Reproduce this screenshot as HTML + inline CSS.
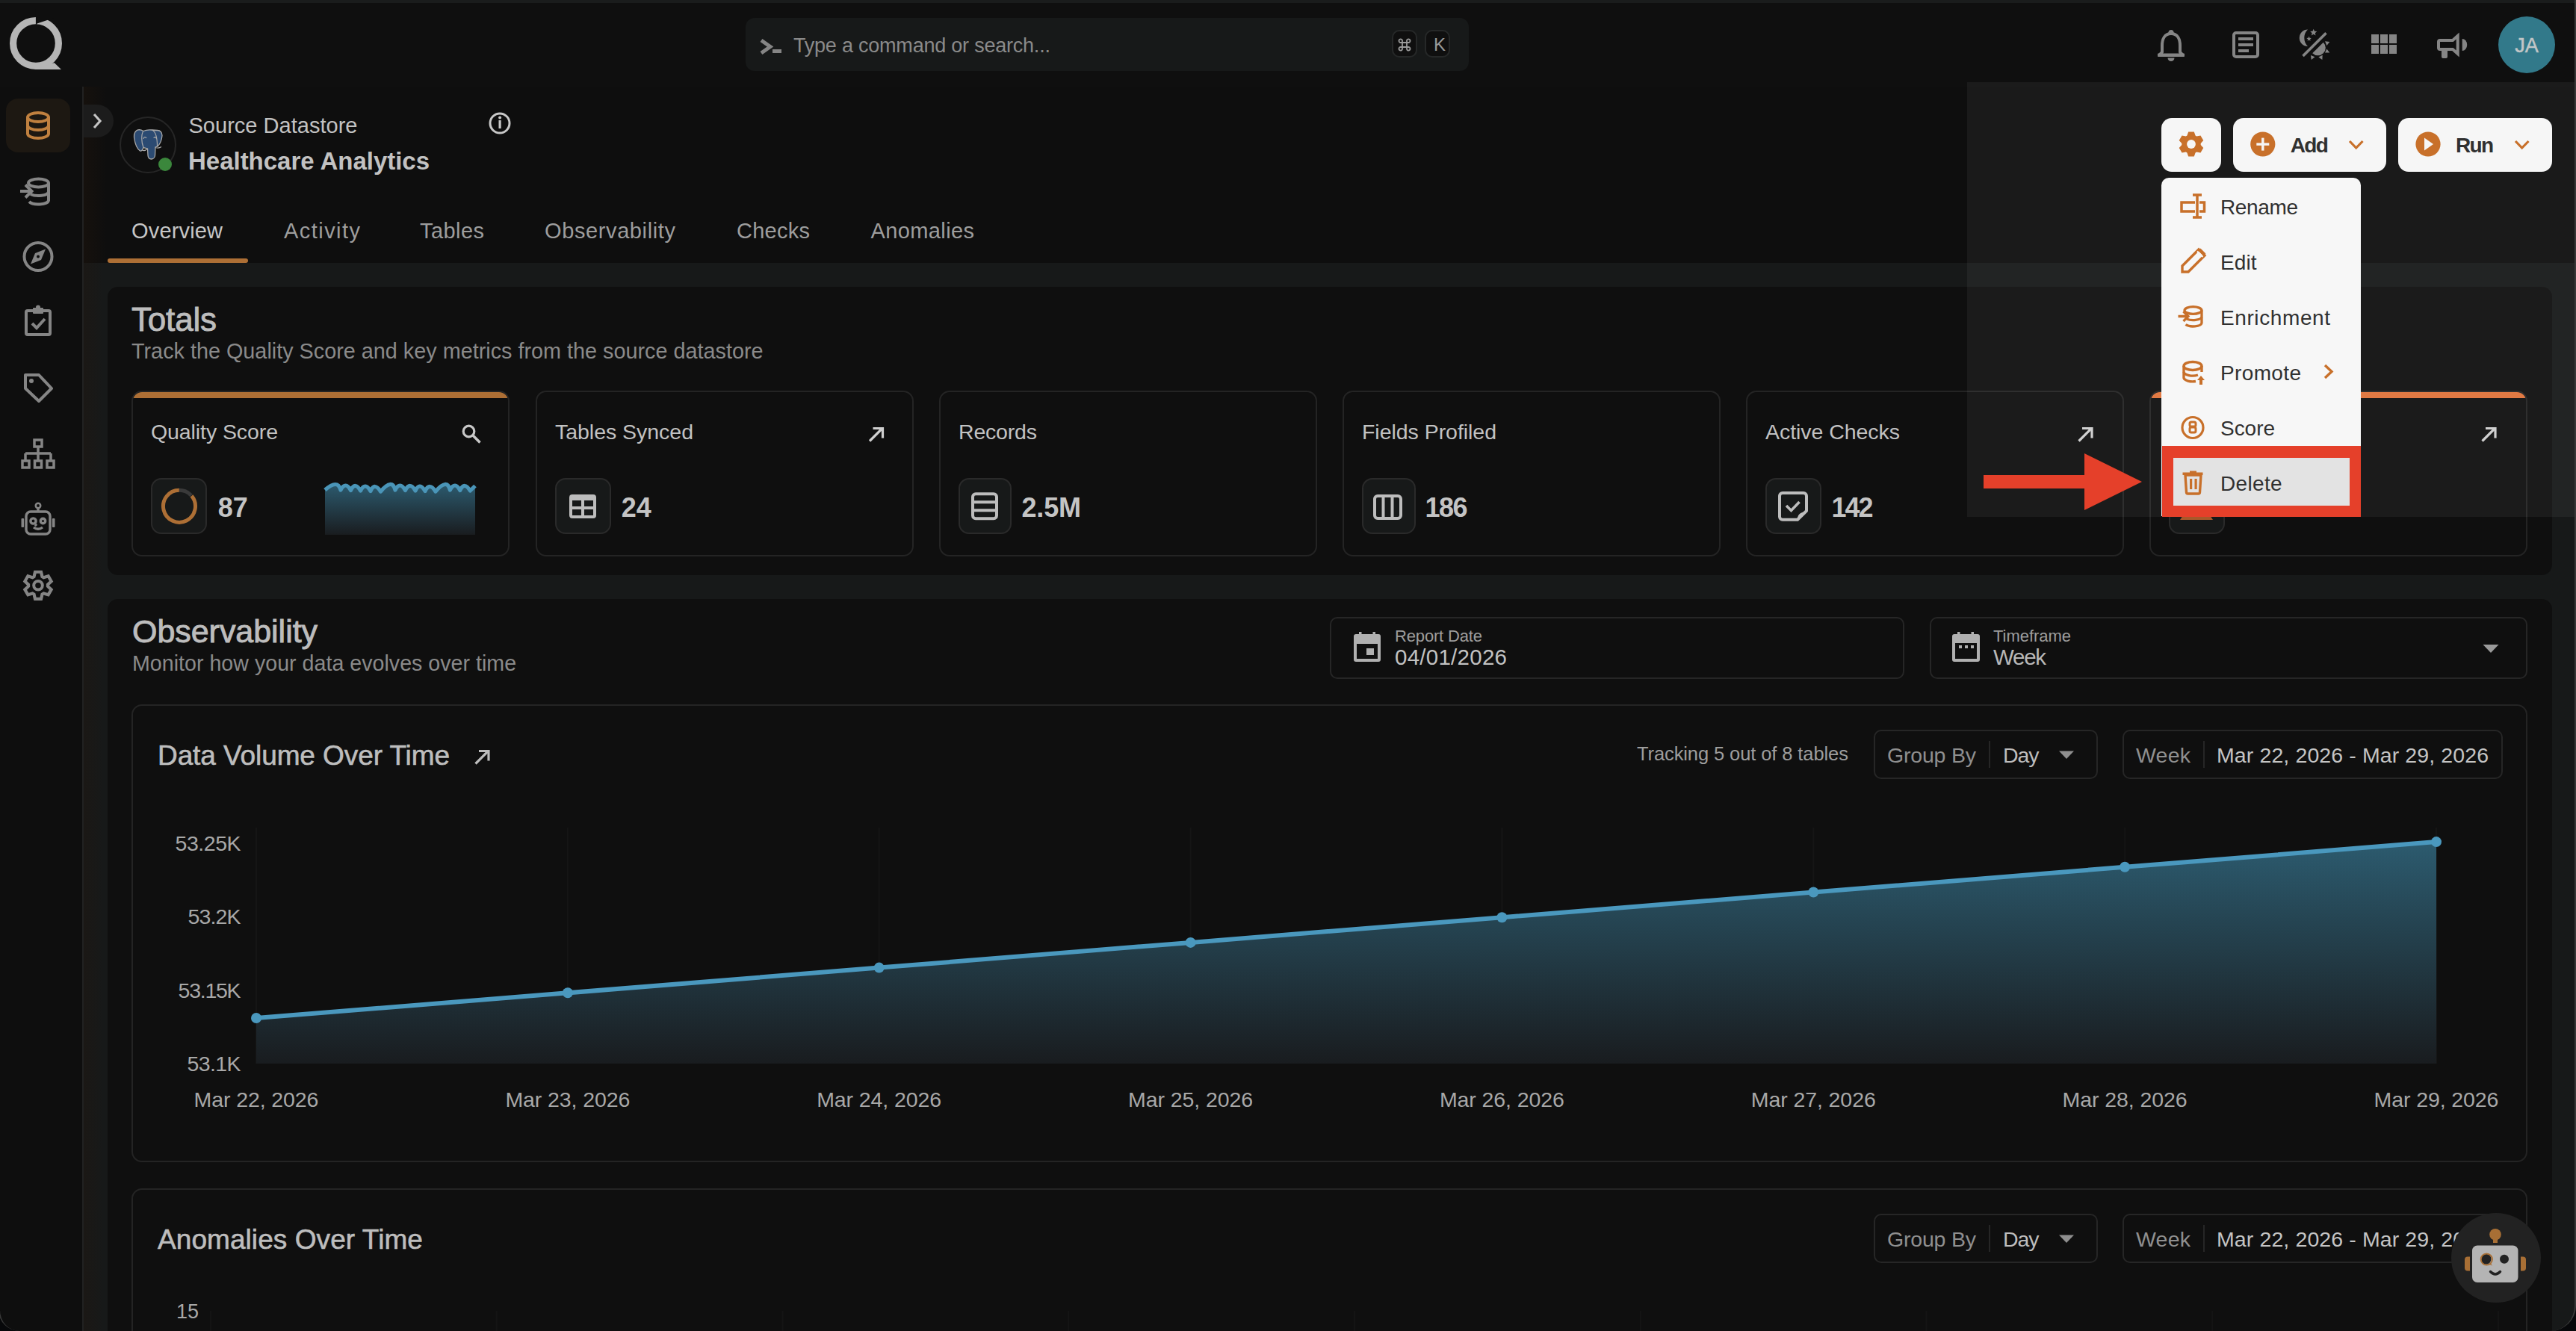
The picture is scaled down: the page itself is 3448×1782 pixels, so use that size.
<!DOCTYPE html>
<html><head><meta charset="utf-8"><title>Healthcare Analytics</title>
<style>
html,body{margin:0;padding:0;}
body{width:3448px;height:1782px;overflow:hidden;background:#07080a;font-family:"Liberation Sans", sans-serif;position:relative;}
.a{position:absolute;box-sizing:border-box;}
.t{position:absolute;line-height:1;white-space:pre;}
svg{position:absolute;overflow:visible;}
</style></head><body>
<div class="a" style="left:0;top:0;width:3448px;height:1782px;background:#0f0f0f;border-radius:0 0 34px 28px;overflow:hidden"></div>
<div class="a" style="left:0;top:0;width:3448px;height:4px;background:#1a1c1c"></div>
<div class="a" style="left:0;top:116px;width:110px;height:1666px;background:#0e0e0e;border-bottom-left-radius:28px"></div>
<div class="a" style="left:110px;top:116px;width:2px;height:1666px;background:#212121"></div>
<div class="a" style="left:112px;top:116px;width:3336px;height:236px;background:#0e0e0e"></div>
<div class="a" style="left:112px;top:116px;width:30px;height:236px;background:linear-gradient(90deg,#16110d,#0e0e0e)"></div>
<div class="a" style="left:112px;top:352px;width:3336px;height:1430px;background:#171919;border-bottom-right-radius:34px"></div>
<div class="a" style="left:112px;top:352px;width:26px;height:1430px;background:linear-gradient(90deg,#1b1815,#171919)"></div>
<div class="a" style="left:3446px;top:116px;width:2px;height:1632px;background:#383838"></div>
<svg class="a" style="left:0;top:0" width="120" height="110" viewBox="0 0 120 110"><circle cx="48" cy="58" r="30.4" fill="none" stroke="#b5b5b5" stroke-width="9.2"/><path d="M46 93 L82 93 L72.6 83.9 L58 89 Z" fill="#b5b5b5"/><path d="M47.9 12 V34 L49.7 31.6 L72 24 V12 Z" fill="#0f0f0f"/></svg>
<div class="a" style="left:998px;top:24px;width:968px;height:71px;background:#171919;border-radius:12px"></div>
<svg class="a" style="left:1010px;top:45px" width="50" height="35" viewBox="0 0 50 35"><path d="M9 9 L21 17.5 L9 26" fill="none" stroke="#858585" stroke-width="5" stroke-linejoin="miter"/><rect x="24" y="21" width="12" height="5" fill="#858585"/></svg>
<div class="t" style="left:1062.0px;top:48.1px;font-size:27px;color:#8a8a8a;letter-spacing:-0.22px;">Type a command or search...</div>
<div class="a" style="left:1863px;top:40px;width:34px;height:37px;background:#0f0f0f;border:2px solid #262828;border-radius:10px"></div>
<div class="a" style="left:1907px;top:40px;width:34px;height:37px;background:#0f0f0f;border:2px solid #262828;border-radius:10px"></div>
<svg class="a" style="left:1870px;top:50px" width="20" height="20" viewBox="0 0 20 20"><path fill="none" stroke="#9a9a9a" stroke-width="1.8" d="M7 7 H13 V13 H7 Z M7 7 V5.2 A2.3 2.3 0 1 0 4.9 7 H7 M13 7 V5.2 A2.3 2.3 0 1 1 15.1 7 H13 M7 13 V14.8 A2.3 2.3 0 1 1 4.9 13 H7 M13 13 V14.8 A2.3 2.3 0 1 0 15.1 13 H13"/></svg>
<div class="t" style="left:1919.0px;top:47.7px;font-size:24px;color:#9a9a9a;">K</div>
<svg class="a" style="left:0;top:0" width="3448" height="110" viewBox="0 0 3448 110"><circle cx="2906" cy="43.5" r="3.5" fill="#858585"/><path d="M2906 45 C2897 45 2894 53 2894 61 L2894 70 L2890 74 L2922 74 L2918 70 L2918 61 C2918 53 2915 45 2906 45 Z" fill="none" stroke="#858585" stroke-width="4" stroke-linejoin="round"/><rect x="2888" y="71.5" width="36" height="4.5" rx="1" fill="#858585"/><path d="M2901.5 77.5 A4.5 4.5 0 0 0 2910.5 77.5 Z" fill="#858585"/><rect x="2990" y="44" width="32" height="32" rx="3" fill="none" stroke="#858585" stroke-width="4"/><rect x="2996" y="50" width="20" height="4" fill="#858585"/><rect x="2996" y="58" width="20" height="4" fill="#858585"/><rect x="2996" y="66" width="14" height="4" fill="#858585"/><path d="M3089 39.5 A11.25 11.25 0 0 0 3089 62 A15.8 15.8 0 0 1 3089 39.5 Z" fill="#858585"/><path d="M3096.70 38.80 L3097.97 41.85 L3101.27 42.12 L3098.75 44.27 L3099.52 47.48 L3096.70 45.76 L3093.88 47.48 L3094.65 44.27 L3092.13 42.12 L3095.43 41.85 Z" fill="#858585"/><path d="M3090.60 48.60 L3091.50 50.76 L3093.83 50.95 L3092.06 52.47 L3092.60 54.75 L3090.60 53.53 L3088.60 54.75 L3089.14 52.47 L3087.37 50.95 L3089.70 50.76 Z" fill="#858585"/><line x1="3082.5" y1="75" x2="3113.5" y2="44.3" stroke="#858585" stroke-width="3.6"/><path d="M3109.8 56.7 A10.3 10.3 0 0 1 3095.2 71.3 Z" fill="#858585"/><path d="M3112 55.2 L3118.3 56 L3114.4 60.9 Z M3112 70.5 L3118.3 70.5 L3114.4 65.4 Z M3103.3 76.5 L3108.7 73.8 L3108.4 80.1 Z M3093 74 L3098.5 76.2 L3093.7 80.1 Z" fill="#858585"/><rect x="3174" y="46" width="10" height="12" fill="#858585"/><rect x="3174" y="60" width="10" height="12" fill="#858585"/><rect x="3186" y="46" width="10" height="12" fill="#858585"/><rect x="3186" y="60" width="10" height="12" fill="#858585"/><rect x="3198" y="46" width="10" height="12" fill="#858585"/><rect x="3198" y="60" width="10" height="12" fill="#858585"/><path d="M3266 54 H3283 L3289.7 48 V72 L3283 66 H3266 A2 2 0 0 1 3264 64 V56 A2 2 0 0 1 3266 54 Z" fill="none" stroke="#858585" stroke-width="4" stroke-linejoin="miter"/><rect x="3268" y="66" width="8" height="12" rx="2" fill="#858585"/><path d="M3295.7 52 A6.5 8 0 0 1 3295.7 68 Z" fill="#858585"/></svg>
<div class="a" style="left:3344px;top:22px;width:76px;height:76px;border-radius:50%;background:#32798a"></div>
<div class="t" style="left:3366.2px;top:47.6px;font-size:27px;color:#c2c6c7;-webkit-text-stroke:0.5px #c2c6c7;">JA</div>
<div class="a" style="left:8px;top:132px;width:86px;height:72px;background:#1d1812;border-radius:16px"></div>
<svg class="a" style="left:0;top:110px" width="110" height="720" viewBox="0 110 110 720"><g fill="none" stroke="#c0803f" stroke-width="4"><ellipse cx="51" cy="157" rx="14" ry="6"/><path d="M37 157 V179 A14 6 0 0 0 65 179 V157"/><path d="M37 168 A14 6 0 0 0 65 168"/></g><g fill="none" stroke="#858585" stroke-width="4"><ellipse cx="51.5" cy="245" rx="13.5" ry="5.5"/><path d="M65 245 V268.5 A13.5 5.5 0 0 1 39 270"/><path d="M65 257 A13.5 5.5 0 0 1 41 260"/><path d="M27 256 H43 M34 247.5 L42.5 256 L34 264.5"/></g><circle cx="51" cy="343.5" r="18.5" fill="none" stroke="#858585" stroke-width="4"/><path d="M61 333.5 L55 348 L41 353.5 L47 339 Z" fill="#858585"/><circle cx="51" cy="343.5" r="2" fill="#0e0e0e"/><g fill="none" stroke="#858585" stroke-width="4"><rect x="35" y="416" width="32" height="32" rx="2"/><path d="M43 433 L49 439 L60 427"/></g><rect x="44" y="412" width="14" height="8" rx="1" fill="#858585"/><circle cx="51" cy="411.5" r="3" fill="#858585"/><path d="M34 502 H52 L69 520 L52 537 L34 520 Z" fill="none" stroke="#858585" stroke-width="4" stroke-linejoin="round"/><circle cx="42" cy="510" r="3" fill="#858585"/><g fill="none" stroke="#858585" stroke-width="3.5"><rect x="46" y="589" width="10" height="9"/><path d="M51 598 V607 M34 607 H68 M34 607 V617 M51 607 V617 M68 607 V617"/><rect x="30" y="617" width="9" height="9"/><rect x="46.5" y="617" width="9" height="9"/><rect x="63" y="617" width="9" height="9"/></g><g fill="none" stroke="#858585" stroke-width="3.4"><rect x="35" y="685" width="32" height="30" rx="6"/><circle cx="44.5" cy="697.5" r="3.6"/><circle cx="57.5" cy="697.5" r="3.2"/><path d="M47 702 L49 704"/><path d="M45 706 Q51 710.5 57 706"/><path d="M51 685 V680.5"/></g><circle cx="51" cy="677" r="3.2" fill="none" stroke="#858585" stroke-width="2.6"/><rect x="28.5" y="694" width="3.6" height="12" rx="1" fill="#858585"/><rect x="69.9" y="694" width="3.6" height="12" rx="1" fill="#858585"/><path d="M45.51 772.02 L47.00 765.74 L55.00 765.74 L56.49 772.02 L58.46 773.15 L64.64 771.30 L68.64 778.24 L63.95 782.67 L63.95 784.93 L68.64 789.36 L64.64 796.30 L58.46 794.45 L56.49 795.58 L55.00 801.86 L47.00 801.86 L45.51 795.58 L43.54 794.45 L37.36 796.30 L33.36 789.36 L38.05 784.93 L38.05 782.67 L33.36 778.24 L37.36 771.30 L43.54 773.15 Z" fill="none" stroke="#858585" stroke-width="4.2" stroke-linejoin="miter"/><circle cx="51" cy="783.8" r="5.8" fill="none" stroke="#858585" stroke-width="4"/></svg>
<div class="a" style="left:112px;top:140px;width:40px;height:44px;background:#1c1c1c;border-radius:0 22px 22px 0"></div>
<svg class="a" style="left:112px;top:140px" width="40" height="44" viewBox="0 0 40 44"><path d="M14 13 L22 22 L14 31" fill="none" stroke="#c4c4c4" stroke-width="3.2"/></svg>
<div class="a" style="left:160px;top:156px;width:76px;height:76px;border-radius:50%;border:2px solid #262626;background:#0f0f0f"></div>
<svg class="a" style="left:160px;top:156px" width="80" height="80" viewBox="160 156 80 80"><path d="M186.5 173.7 C181 174 178.8 179 179.5 184 C180.5 191 183 199 187.5 202 C189.5 203 191 200 192 197.5 L197.5 199 L198 208 C198.3 212 200.5 213 202.5 213 C205 213 207.3 211 207.5 208 L208 197 L211 196 C214 193 216.5 187 217 181.5 C217 177.5 214.5 174.5 211 174.5 C208 174.5 206 174.3 203.5 174 C199 173.5 195 174 191.8 175.5 C190 174.3 188.5 173.7 186.5 173.7 Z" fill="#2b4a72" stroke="#a8a8a8" stroke-width="1.3"/><path d="M191.8 175.5 C189 180 189 190 192 197.5 M203.5 174 C208 176 210.5 182 210.5 196 M192 186 C192 183 195 183 196 185 M206 185 C206 183 208.5 183 209.5 185.5 M190 200.5 C192.5 202.5 195 201.5 197.5 199 M208 197.5 C211 198.5 214 198 216 196.5" fill="none" stroke="#a8a8a8" stroke-width="1.2"/></svg>
<div class="a" style="left:212px;top:211px;width:18px;height:18px;border-radius:50%;background:#3b873c"></div>
<div class="t" style="left:252.5px;top:153.5px;font-size:29px;color:#c2c2c2;letter-spacing:0.02px;">Source Datastore</div>
<div class="t" style="left:252.0px;top:198.6px;font-size:33px;color:#c2c2c2;font-weight:700;letter-spacing:-0.02px;">Healthcare Analytics</div>
<svg class="a" style="left:650px;top:146px" width="40" height="40" viewBox="650 146 40 40"><circle cx="669" cy="165" r="13" fill="none" stroke="#c8c8c8" stroke-width="3"/><rect x="667.5" y="161" width="3.2" height="11" fill="#c8c8c8"/><circle cx="669.1" cy="157.5" r="2" fill="#c8c8c8"/></svg>
<div class="t" style="left:176.0px;top:294.5px;font-size:29px;color:#c6c6c6;letter-spacing:0.16px;">Overview</div>
<div class="t" style="left:380.0px;top:294.5px;font-size:29px;color:#9d9d9d;letter-spacing:1.45px;">Activity</div>
<div class="t" style="left:562.0px;top:294.5px;font-size:29px;color:#9d9d9d;letter-spacing:0.43px;">Tables</div>
<div class="t" style="left:729.0px;top:294.5px;font-size:29px;color:#9d9d9d;letter-spacing:0.61px;">Observability</div>
<div class="t" style="left:986.0px;top:294.5px;font-size:29px;color:#9d9d9d;letter-spacing:0.26px;">Checks</div>
<div class="t" style="left:1165.5px;top:294.5px;font-size:29px;color:#9d9d9d;letter-spacing:0.39px;">Anomalies</div>
<div class="a" style="left:144px;top:346px;width:188px;height:6px;background:#ad6f35;border-radius:3px"></div>
<div class="a" style="left:144px;top:384px;width:3272px;height:386px;background:#0f0f0f;border-radius:14px"></div>
<div class="t" style="left:176.0px;top:405.8px;font-size:44px;color:#bdbdbd;letter-spacing:-0.19px;-webkit-text-stroke:0.9px #bdbdbd;">Totals</div>
<div class="t" style="left:176.0px;top:455.6px;font-size:28.8px;color:#8a8a8a;">Track the Quality Score and key metrics from the source datastore</div>
<div class="a" style="left:176px;top:523px;width:506px;height:222px;background:#0f0f0f;border:2px solid #242424;border-radius:14px;overflow:hidden"><div class="a" style="left:0;top:0;width:100%;height:8px;background:#ad6f35"></div></div>
<div class="t" style="left:202.0px;top:563.9px;font-size:28.5px;color:#c2c2c2;letter-spacing:-0.09px;">Quality Score</div>
<div class="a" style="left:202px;top:640px;width:75px;height:75px;background:#171919;border:2px solid #2a2a2a;border-radius:14px"></div>
<div class="a" style="left:717px;top:523px;width:506px;height:222px;background:#0f0f0f;border:2px solid #242424;border-radius:14px;overflow:hidden"></div>
<div class="t" style="left:743.0px;top:563.9px;font-size:28.5px;color:#c2c2c2;letter-spacing:-0.03px;">Tables Synced</div>
<div class="a" style="left:743px;top:640px;width:75px;height:75px;background:#171919;border:2px solid #2a2a2a;border-radius:14px"></div>
<div class="a" style="left:1257px;top:523px;width:506px;height:222px;background:#0f0f0f;border:2px solid #242424;border-radius:14px;overflow:hidden"></div>
<div class="t" style="left:1283.0px;top:563.9px;font-size:28.5px;color:#c2c2c2;letter-spacing:-0.19px;">Records</div>
<div class="a" style="left:1283px;top:640px;width:71px;height:75px;background:#171919;border:2px solid #2a2a2a;border-radius:14px"></div>
<div class="a" style="left:1797px;top:523px;width:506px;height:222px;background:#0f0f0f;border:2px solid #242424;border-radius:14px;overflow:hidden"></div>
<div class="t" style="left:1823.0px;top:563.9px;font-size:28.5px;color:#c2c2c2;letter-spacing:-0.04px;">Fields Profiled</div>
<div class="a" style="left:1823px;top:640px;width:72px;height:75px;background:#171919;border:2px solid #2a2a2a;border-radius:14px"></div>
<div class="a" style="left:2337px;top:523px;width:506px;height:222px;background:#0f0f0f;border:2px solid #242424;border-radius:14px;overflow:hidden"></div>
<div class="t" style="left:2363.0px;top:563.9px;font-size:28.5px;color:#c2c2c2;letter-spacing:-0.05px;">Active Checks</div>
<div class="a" style="left:2363px;top:640px;width:75px;height:75px;background:#171919;border:2px solid #2a2a2a;border-radius:14px"></div>
<div class="a" style="left:2877px;top:523px;width:506px;height:222px;background:#0f0f0f;border:2px solid #242424;border-radius:14px;overflow:hidden"><div class="a" style="left:0;top:0;width:100%;height:8px;background:#e0733a"></div></div>
<div class="a" style="left:2903px;top:640px;width:75px;height:75px;background:#171919;border:2px solid #2a2a2a;border-radius:14px"></div>
<div class="t" style="left:291.8px;top:661.9px;font-size:36px;color:#c4c4c4;font-weight:700;">87</div>
<div class="t" style="left:831.8px;top:661.9px;font-size:36px;color:#c4c4c4;font-weight:700;">24</div>
<div class="t" style="left:1367.5px;top:661.9px;font-size:36px;color:#c4c4c4;font-weight:700;letter-spacing:-0.18px;">2.5M</div>
<div class="t" style="left:1907.6px;top:661.9px;font-size:36px;color:#c4c4c4;font-weight:700;letter-spacing:-1.54px;">186</div>
<div class="t" style="left:2451.5px;top:661.9px;font-size:36px;color:#c4c4c4;font-weight:700;letter-spacing:-2.04px;">142</div>
<svg class="a" style="left:0;top:0" width="3448" height="800" viewBox="0 0 3448 800"><path d="M240.00 656.30 A21.5 21.5 0 0 1 255.98 663.41" fill="none" stroke="#3a3a3a" stroke-width="5"/><path d="M256.47 663.98 A21.5 21.5 0 1 1 239.81 656.30" fill="none" stroke="#ad6f35" stroke-width="5"/><defs><linearGradient id="gsp" x1="0" y1="0" x2="0" y2="1"><stop offset="0" stop-color="#2c5a6e"/><stop offset="1" stop-color="#191c1f"/></linearGradient><linearGradient id="gdv" x1="0" y1="0" x2="0" y2="1"><stop offset="0" stop-color="#2d5b70"/><stop offset="1" stop-color="#1a1d20"/></linearGradient></defs><path d="M435 656 Q451.9 641.0 456 656 Q462.5 643.8 469.5 656.5 Q475.2 644.2 482.6 657 Q488.7 644.8 496 657.5 Q501.2 645.2 509.5 658 Q524.8 640.0 529 656 Q535.2 643.8 542.5 656.5 Q548.8 644.2 556 657 Q561.5 644.8 569 657.5 Q575.0 645.2 583 658 Q598.3 640.0 602.4 656 Q608.9 643.8 615.8 656.5 Q621.5 644.2 629.3 657 L636 650.5 L636 716 L435 716 Z" fill="url(#gsp)"/><path d="M435 656 Q451.9 641.0 456 656 Q462.5 643.8 469.5 656.5 Q475.2 644.2 482.6 657 Q488.7 644.8 496 657.5 Q501.2 645.2 509.5 658 Q524.8 640.0 529 656 Q535.2 643.8 542.5 656.5 Q548.8 644.2 556 657 Q561.5 644.8 569 657.5 Q575.0 645.2 583 658 Q598.3 640.0 602.4 656 Q608.9 643.8 615.8 656.5 Q621.5 644.2 629.3 657 L636 650.5" fill="none" stroke="#4a95b8" stroke-width="5.2" stroke-linejoin="round"/><path fill-rule="evenodd" fill="#bdbdbd" d="M766 662 H794 A4 4 0 0 1 798 666 V690 A4 4 0 0 1 794 694 H766 A4 4 0 0 1 762 690 V666 A4 4 0 0 1 766 662 Z M766 670 V678 H778 V670 Z M782 670 V678 H794 V670 Z M766 682 V690 H778 V682 Z M782 682 V690 H794 V682 Z"/><g fill="none" stroke="#bdbdbd" stroke-width="4"><rect x="1302" y="661.3" width="32" height="33" rx="4"/><path d="M1302 672.3 H1334 M1302 683.3 H1334"/></g><g fill="none" stroke="#bdbdbd" stroke-width="4"><rect x="1840" y="664" width="35" height="30" rx="4"/><path d="M1851.5 664 V694 M1863.5 664 V694"/></g><path d="M2406 695.8 H2386 A4 4 0 0 1 2382 691.8 V664 A4 4 0 0 1 2386 660 H2414 A4 4 0 0 1 2418 664 V684 Z" fill="none" stroke="#bdbdbd" stroke-width="4" stroke-linejoin="round"/><path d="M2406 697.5 C2405 690 2409 685 2418.5 685 Z" fill="#bdbdbd"/><path d="M2391 677 L2397.5 683.5 L2408.5 672" fill="none" stroke="#bdbdbd" stroke-width="3.6"/><circle cx="627.5" cy="577.5" r="7.3" fill="none" stroke="#c8c8c8" stroke-width="3.2"/><path d="M632.5 582.5 L642.5 592.5" stroke="#c8c8c8" stroke-width="3.6"/><path d="M1164.0 590.5 L1180.5 574" stroke="#cfcfcf" stroke-width="3.2"/><path d="M1168.5 573.5 H1181.5 V586.5" fill="none" stroke="#cfcfcf" stroke-width="3.2"/><path d="M2782.5 590.5 L2799 574" stroke="#cfcfcf" stroke-width="3.2"/><path d="M2787 573.5 H2800 V586.5" fill="none" stroke="#cfcfcf" stroke-width="3.2"/><path d="M3322.5 590.5 L3339 574" stroke="#cfcfcf" stroke-width="3.2"/><path d="M3327 573.5 H3340 V586.5" fill="none" stroke="#cfcfcf" stroke-width="3.2"/></svg>
<div class="a" style="left:144px;top:802px;width:3272px;height:1100px;background:#0f0f0f;border-radius:14px"></div>
<div class="t" style="left:177.0px;top:823.6px;font-size:43px;color:#bdbdbd;letter-spacing:-0.04px;-webkit-text-stroke:0.9px #bdbdbd;">Observability</div>
<div class="t" style="left:177.0px;top:873.8px;font-size:28.6px;color:#8a8a8a;letter-spacing:0.02px;">Monitor how your data evolves over time</div>
<div class="a" style="left:1780px;top:826px;width:769px;height:83px;border:2px solid #262626;border-radius:10px"></div>
<div class="a" style="left:2583px;top:826px;width:800px;height:83px;border:2px solid #262626;border-radius:10px"></div>
<svg class="a" style="left:0;top:800px" width="3448" height="120" viewBox="0 800 3448 120"><path fill-rule="evenodd" fill="#b0b0b0" d="M1815 849 H1845 A3 3 0 0 1 1848 852 V883 A3 3 0 0 1 1845 886 H1815 A3 3 0 0 1 1812 883 V852 A3 3 0 0 1 1815 849 Z M1816 862 V882 H1844 V862 Z"/><rect x="1819" y="846" width="3.5" height="6" fill="#b0b0b0"/><rect x="1837.5" y="846" width="3.5" height="6" fill="#b0b0b0"/><rect x="1829" y="868" width="10" height="9" fill="#b0b0b0"/><path fill-rule="evenodd" fill="#b0b0b0" d="M2616 849 H2647 A3 3 0 0 1 2650 852 V883 A3 3 0 0 1 2647 886 H2616 A3 3 0 0 1 2613 883 V852 A3 3 0 0 1 2616 849 Z M2617 861 V882 H2646 V861 Z"/><rect x="2620" y="846" width="3.5" height="6" fill="#b0b0b0"/><rect x="2638.5" y="846" width="3.5" height="6" fill="#b0b0b0"/><rect x="2622" y="864" width="4" height="4" fill="#b0b0b0"/><rect x="2630" y="864" width="4" height="4" fill="#b0b0b0"/><rect x="2638" y="864" width="4" height="4" fill="#b0b0b0"/><path d="M3323.5 863 H3344.5 L3334 874 Z" fill="#9a9a9a"/></svg>
<div class="t" style="left:1867.0px;top:841.0px;font-size:22px;color:#9d9d9d;letter-spacing:-0.16px;">Report Date</div>
<div class="t" style="left:1867.0px;top:865.0px;font-size:29.5px;color:#c2c2c2;letter-spacing:0.26px;">04/01/2026</div>
<div class="t" style="left:2668.0px;top:841.0px;font-size:22px;color:#9d9d9d;letter-spacing:-0.04px;">Timeframe</div>
<div class="t" style="left:2668.0px;top:865.0px;font-size:29.5px;color:#b8b8b8;letter-spacing:-1.29px;">Week</div>
<div class="a" style="left:176px;top:943px;width:3207px;height:613px;border:2px solid #242424;border-radius:14px"></div>
<div class="t" style="left:211.0px;top:992.7px;font-size:37px;color:#bdbdbd;letter-spacing:-0.09px;-webkit-text-stroke:0.6px #bdbdbd;">Data Volume Over Time</div>
<svg class="a" style="left:630px;top:998px" width="30" height="30" viewBox="630 998 30 30"><path d="M636.5 1022.5 L653 1006" stroke="#bdbdbd" stroke-width="3.2"/><path d="M641 1005.5 H654 V1018.5" fill="none" stroke="#bdbdbd" stroke-width="3.2"/></svg>
<div class="t" style="left:2191.0px;top:997.1px;font-size:25.5px;color:#9d9d9d;letter-spacing:-0.10px;">Tracking 5 out of 8 tables</div>
<div class="a" style="left:2508px;top:977px;width:300px;height:66px;border:2px solid #262626;border-radius:10px"></div>
<div class="a" style="left:2662px;top:992px;width:2px;height:36px;background:#262626"></div>
<div class="a" style="left:2841px;top:977px;width:509px;height:66px;border:2px solid #262626;border-radius:10px"></div>
<div class="a" style="left:2949px;top:992px;width:2px;height:36px;background:#262626"></div>
<div class="t" style="left:2526.0px;top:996.9px;font-size:28.5px;color:#8f8f8f;letter-spacing:-0.20px;">Group By</div>
<div class="t" style="left:2681.0px;top:996.9px;font-size:28.5px;color:#bdbdbd;letter-spacing:-1.04px;">Day</div>
<svg class="a" style="left:2750px;top:1002px" width="30" height="16" viewBox="0 0 30 16"><path d="M6 3.5 H26 L16 14 Z" fill="#8f8f8f"/></svg>
<div class="t" style="left:2859.0px;top:996.9px;font-size:28.5px;color:#8f8f8f;letter-spacing:0.22px;">Week</div>
<div class="t" style="left:2967.0px;top:996.9px;font-size:28.5px;color:#c4c4c4;letter-spacing:0.11px;">Mar 22, 2026 - Mar 29, 2026</div>
<svg class="a" style="left:0;top:1090px" width="3448" height="700" viewBox="0 1090 3448 700"><line x1="343.0" y1="1108" x2="343.0" y2="1424" stroke="#151515" stroke-width="2"/><line x1="759.9" y1="1108" x2="759.9" y2="1424" stroke="#151515" stroke-width="2"/><line x1="1176.7" y1="1108" x2="1176.7" y2="1424" stroke="#151515" stroke-width="2"/><line x1="1593.6" y1="1108" x2="1593.6" y2="1424" stroke="#151515" stroke-width="2"/><line x1="2010.4" y1="1108" x2="2010.4" y2="1424" stroke="#151515" stroke-width="2"/><line x1="2427.3" y1="1108" x2="2427.3" y2="1424" stroke="#151515" stroke-width="2"/><line x1="2844.1" y1="1108" x2="2844.1" y2="1424" stroke="#151515" stroke-width="2"/><line x1="3261.0" y1="1108" x2="3261.0" y2="1424" stroke="#151515" stroke-width="2"/><defs><linearGradient id="gdv2" gradientUnits="userSpaceOnUse" x1="0" y1="1127" x2="0" y2="1424"><stop offset="0" stop-color="#2c5b6f"/><stop offset="1" stop-color="#191c1f"/></linearGradient></defs><polygon points="343,1424 343.0,1363.0 759.9,1329.3 1176.7,1295.6 1593.6,1261.9 2010.4,1228.2 2427.3,1194.5 2844.1,1160.8 3261.0,1127.1 3261.0,1424" fill="url(#gdv2)"/><polyline points="343.0,1363.0 759.9,1329.3 1176.7,1295.6 1593.6,1261.9 2010.4,1228.2 2427.3,1194.5 2844.1,1160.8 3261.0,1127.1" fill="none" stroke="#4a98be" stroke-width="6" stroke-linejoin="round"/><circle cx="343.0" cy="1363.0" r="7" fill="#4a98be"/><circle cx="759.9" cy="1329.3" r="7" fill="#4a98be"/><circle cx="1176.7" cy="1295.6" r="7" fill="#4a98be"/><circle cx="1593.6" cy="1261.9" r="7" fill="#4a98be"/><circle cx="2010.4" cy="1228.2" r="7" fill="#4a98be"/><circle cx="2427.3" cy="1194.5" r="7" fill="#4a98be"/><circle cx="2844.1" cy="1160.8" r="7" fill="#4a98be"/><circle cx="3261.0" cy="1127.1" r="7" fill="#4a98be"/><line x1="282.0" y1="1755" x2="282.0" y2="1790" stroke="#141414" stroke-width="2"/><line x1="664.8" y1="1755" x2="664.8" y2="1790" stroke="#141414" stroke-width="2"/><line x1="1047.5" y1="1755" x2="1047.5" y2="1790" stroke="#141414" stroke-width="2"/><line x1="1430.2" y1="1755" x2="1430.2" y2="1790" stroke="#141414" stroke-width="2"/><line x1="1813.0" y1="1755" x2="1813.0" y2="1790" stroke="#141414" stroke-width="2"/><line x1="2195.8" y1="1755" x2="2195.8" y2="1790" stroke="#141414" stroke-width="2"/><line x1="2578.5" y1="1755" x2="2578.5" y2="1790" stroke="#141414" stroke-width="2"/><line x1="2961.2" y1="1755" x2="2961.2" y2="1790" stroke="#141414" stroke-width="2"/><line x1="3344.0" y1="1755" x2="3344.0" y2="1790" stroke="#141414" stroke-width="2"/></svg>
<div class="t" style="left:234.6px;top:1114.5px;font-size:28.5px;color:#a8a8a8;letter-spacing:-0.47px;">53.25K</div>
<div class="t" style="left:251.6px;top:1212.9px;font-size:28.5px;color:#a8a8a8;letter-spacing:-0.87px;">53.2K</div>
<div class="t" style="left:238.6px;top:1311.9px;font-size:28.5px;color:#a8a8a8;letter-spacing:-1.27px;">53.15K</div>
<div class="t" style="left:250.6px;top:1409.9px;font-size:28.5px;color:#a8a8a8;letter-spacing:-0.62px;">53.1K</div>
<div class="t" style="left:259.5px;top:1457.6px;font-size:28.5px;color:#a8a8a8;letter-spacing:-0.09px;">Mar 22, 2026</div>
<div class="t" style="left:676.4px;top:1457.6px;font-size:28.5px;color:#a8a8a8;letter-spacing:-0.09px;">Mar 23, 2026</div>
<div class="t" style="left:1093.2px;top:1457.6px;font-size:28.5px;color:#a8a8a8;letter-spacing:-0.09px;">Mar 24, 2026</div>
<div class="t" style="left:1510.1px;top:1457.6px;font-size:28.5px;color:#a8a8a8;letter-spacing:-0.09px;">Mar 25, 2026</div>
<div class="t" style="left:1926.9px;top:1457.6px;font-size:28.5px;color:#a8a8a8;letter-spacing:-0.09px;">Mar 26, 2026</div>
<div class="t" style="left:2343.8px;top:1457.6px;font-size:28.5px;color:#a8a8a8;letter-spacing:-0.09px;">Mar 27, 2026</div>
<div class="t" style="left:2760.6px;top:1457.6px;font-size:28.5px;color:#a8a8a8;letter-spacing:-0.09px;">Mar 28, 2026</div>
<div class="t" style="left:3177.5px;top:1457.6px;font-size:28.5px;color:#a8a8a8;letter-spacing:-0.09px;">Mar 29, 2026</div>
<div class="a" style="left:176px;top:1591px;width:3207px;height:400px;border:2px solid #242424;border-radius:14px"></div>
<div class="t" style="left:211.0px;top:1640.7px;font-size:37px;color:#bdbdbd;letter-spacing:0.07px;-webkit-text-stroke:0.6px #bdbdbd;">Anomalies Over Time</div>
<div class="a" style="left:2508px;top:1625px;width:300px;height:66px;border:2px solid #262626;border-radius:10px"></div>
<div class="a" style="left:2662px;top:1640px;width:2px;height:36px;background:#262626"></div>
<div class="a" style="left:2841px;top:1625px;width:509px;height:66px;border:2px solid #262626;border-radius:10px"></div>
<div class="a" style="left:2949px;top:1640px;width:2px;height:36px;background:#262626"></div>
<div class="t" style="left:2526.0px;top:1644.9px;font-size:28.5px;color:#8f8f8f;letter-spacing:-0.20px;">Group By</div>
<div class="t" style="left:2681.0px;top:1644.9px;font-size:28.5px;color:#bdbdbd;letter-spacing:-1.04px;">Day</div>
<svg class="a" style="left:2750px;top:1650px" width="30" height="16" viewBox="0 0 30 16"><path d="M6 3.5 H26 L16 14 Z" fill="#8f8f8f"/></svg>
<div class="t" style="left:2859.0px;top:1644.9px;font-size:28.5px;color:#8f8f8f;letter-spacing:0.22px;">Week</div>
<div class="t" style="left:2967.0px;top:1644.9px;font-size:28.5px;color:#c4c4c4;letter-spacing:0.11px;">Mar 22, 2026 - Mar 29, 2026</div>
<div class="t" style="left:236.0px;top:1743.1px;font-size:27px;color:#a8a8a8;">15</div>
<div class="a" style="left:3281px;top:1624px;width:120px;height:120px;border-radius:50%;background:#222222"></div>
<svg class="a" style="left:3281px;top:1624px" width="120" height="120" viewBox="3281 1624 120 120"><rect x="3337" y="1658" width="6" height="6" fill="#a86f35"/><circle cx="3340" cy="1652.8" r="7.8" fill="#a86f35"/><path d="M3306 1682.5 H3303 A4 4 0 0 0 3299 1686.5 V1697.5 A4 4 0 0 0 3303 1701.5 H3306 Z" fill="#a86f35"/><path d="M3374 1682.5 H3377 A4 4 0 0 1 3381 1686.5 V1697.5 A4 4 0 0 1 3377 1701.5 H3374 Z" fill="#a86f35"/><rect x="3309" y="1667.5" width="61.5" height="49.5" rx="7" fill="#b4b4b4"/><circle cx="3327.5" cy="1685.7" r="7" fill="#222"/><circle cx="3328.3" cy="1686" r="7.6" fill="none" stroke="#a86f35" stroke-width="2"/><path d="M3332 1693 L3336 1694.5 L3333.5 1691" fill="#a86f35"/><circle cx="3352" cy="1685.7" r="6" fill="#222"/><path d="M3333.5 1702.5 Q3340 1709.5 3346.5 1702.5" fill="none" stroke="#222" stroke-width="3.5" stroke-linecap="round"/></svg>
<div class="a" style="left:2633px;top:110px;width:815px;height:582px;background:rgba(255,255,255,0.05)"></div>
<div class="a" style="left:2893px;top:158px;width:80px;height:72px;background:#f6f6f6;border-radius:14px"></div>
<div class="a" style="left:2989px;top:158px;width:205px;height:72px;background:#f6f6f6;border-radius:14px"></div>
<div class="a" style="left:3210px;top:158px;width:206px;height:72px;background:#f6f6f6;border-radius:14px"></div>
<svg class="a" style="left:0;top:0" width="3448" height="800" viewBox="0 0 3448 800"><path fill="#c8702a" d="M2927.43 181.59 L2929.18 176.44 L2936.82 176.44 L2938.57 181.59 L2940.10 182.47 L2945.43 181.41 L2949.26 188.03 L2945.67 192.11 L2945.67 193.89 L2949.26 197.97 L2945.43 204.59 L2940.10 203.53 L2938.57 204.41 L2936.82 209.56 L2929.18 209.56 L2927.43 204.41 L2925.90 203.53 L2920.57 204.59 L2916.74 197.97 L2920.33 193.89 L2920.33 192.11 L2916.74 188.03 L2920.57 181.41 L2925.90 182.47 Z"/><circle cx="2933" cy="193" r="12.2" fill="#c8702a"/><circle cx="2933" cy="193" r="5.9" fill="#f6f6f6"/><circle cx="3028.8" cy="193" r="16.6" fill="#c8702a"/><rect x="3020.3" y="191.4" width="17" height="3.4" fill="#f6f6f6"/><rect x="3027.1" y="184.6" width="3.4" height="17" fill="#f6f6f6"/><path d="M3145 189 L3153.7 198 L3162.5 189" fill="none" stroke="#c8702a" stroke-width="3.2"/><circle cx="3250" cy="193" r="16.6" fill="#c8702a"/><path d="M3245 184.5 L3257 193 L3245 201.5 Z" fill="#f6f6f6"/><path d="M3367 189 L3375.7 198 L3384.5 189" fill="none" stroke="#c8702a" stroke-width="3.2"/></svg>
<div class="t" style="left:3065.7px;top:180.7px;font-size:28px;color:#303030;font-weight:700;letter-spacing:-1.57px;">Add</div>
<div class="t" style="left:3287.0px;top:180.7px;font-size:28px;color:#303030;font-weight:700;letter-spacing:-1.72px;">Run</div>
<div class="a" style="left:2893px;top:238px;width:267px;height:453px;background:#f7f7f7;border-radius:10px 10px 0 0"></div>
<svg class="a" style="left:2910px;top:686px" width="60" height="12" viewBox="2910 686 60 12"><path d="M2922 690 H2958 L2962 696 H2918 Z" fill="#a9582a"/></svg>
<div class="a" style="left:2894px;top:597px;width:266px;height:95px;background:#e5402a"></div>
<div class="a" style="left:2909px;top:613px;width:236px;height:64px;background:#e3e3e3"></div>
<div class="t" style="left:2972.0px;top:264.3px;font-size:28px;color:#303030;letter-spacing:-0.37px;">Rename</div>
<div class="t" style="left:2972.0px;top:338.3px;font-size:28px;color:#303030;letter-spacing:0.12px;">Edit</div>
<div class="t" style="left:2972.0px;top:412.3px;font-size:28px;color:#303030;letter-spacing:0.60px;">Enrichment</div>
<div class="t" style="left:2972.0px;top:486.3px;font-size:28px;color:#303030;letter-spacing:0.36px;">Promote</div>
<div class="t" style="left:2972.0px;top:560.3px;font-size:28px;color:#303030;letter-spacing:-0.04px;">Score</div>
<div class="t" style="left:2972.0px;top:634.3px;font-size:28px;color:#303030;letter-spacing:0.35px;">Delete</div>
<svg class="a" style="left:0;top:0" width="3448" height="800" viewBox="0 0 3448 800"><g fill="none" stroke="#c8702a" stroke-width="3.5"><path d="M2938 271 H2920 V283 H2938"/><path d="M2944 271 H2950.5 V283 H2944"/><path d="M2941 261 V291 M2935 261 H2947 M2935 291 H2947"/></g><path d="M2921 364 V356 L2943 334 L2951 342 L2929 364 Z" fill="none" stroke="#c8702a" stroke-width="3.4" stroke-linejoin="miter"/><path d="M2941 336.5 L2948.5 344" stroke="#f7f7f7" stroke-width="2"/><path d="M2944 334 L2951 341" stroke="#c8702a" stroke-width="4"/><g fill="none" stroke="#c8702a" stroke-width="3.3"><ellipse cx="2935.5" cy="415.5" rx="11.5" ry="4.8"/><path d="M2947 415.5 V432.5 A11.5 4.8 0 0 1 2925.5 434.5"/><path d="M2947 424.5 A11.5 4.8 0 0 1 2927 427"/><path d="M2915.5 423.5 H2929 M2922.5 417 L2929 423.5 L2922.5 430"/></g><g fill="none" stroke="#c8702a" stroke-width="3.4"><ellipse cx="2935" cy="490" rx="12" ry="5.5"/><path d="M2923 490 V506 A12 5.5 0 0 0 2939 510.5"/><path d="M2923 498 A12 5.5 0 0 0 2942 502"/><path d="M2947 490 V498"/></g><path d="M2946 503 L2951 509 H2948 V515 H2944 V509 H2941 Z" fill="#c8702a"/><path d="M3112 489 L3121 497.5 L3112 506" fill="none" stroke="#c8702a" stroke-width="3.4"/><circle cx="2935" cy="572.5" r="14" fill="none" stroke="#c8702a" stroke-width="3.2"/><g fill="none" stroke="#c8702a" stroke-width="3"><rect x="2931" y="565" width="8" height="6" rx="2"/><rect x="2931" y="572" width="8" height="7" rx="2"/></g><path d="M2925 636 H2946 L2944.5 659 A2 2 0 0 1 2942.5 661 H2928.5 A2 2 0 0 1 2926.5 659 Z" fill="none" stroke="#c8702a" stroke-width="3.4"/><rect x="2921.5" y="632.5" width="27" height="3.5" fill="#c8702a"/><rect x="2931" y="630.5" width="9" height="3" fill="#c8702a"/><rect x="2931" y="641" width="3.2" height="14" fill="#c8702a"/><rect x="2937.5" y="641" width="3.2" height="14" fill="#c8702a"/><path d="M2655 636 H2790 V607 L2867 645 L2790 683 V654 H2655 Z" fill="#e5402a"/></svg>
<div class="a" style="left:-2px;top:0;width:3450px;height:1782px;border-left:2px solid #383838;border-right:2px solid #383838;border-bottom-left-radius:28px;border-bottom-right-radius:34px"></div>
</body></html>
